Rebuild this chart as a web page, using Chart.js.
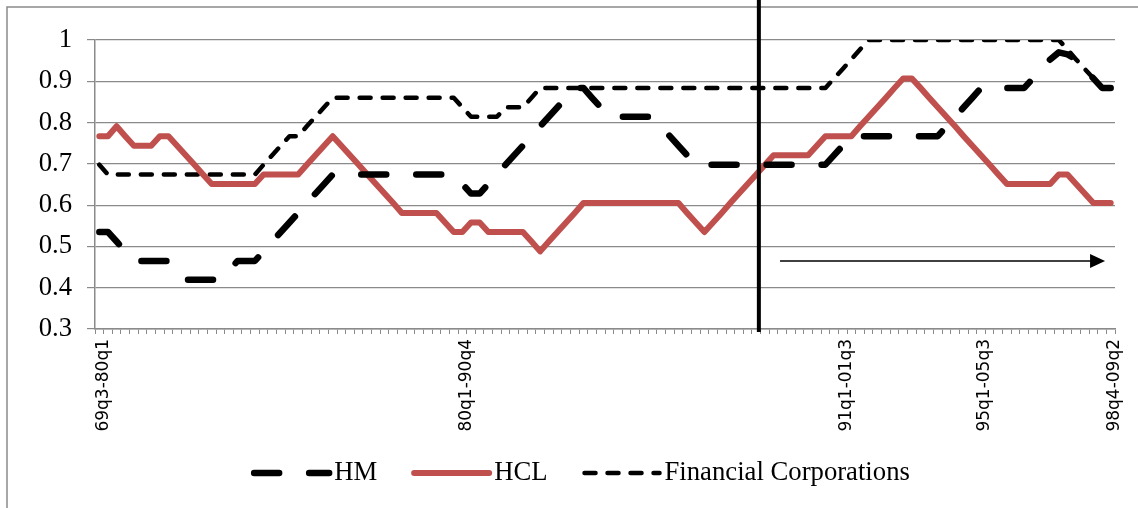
<!DOCTYPE html>
<html>
<head>
<meta charset="utf-8">
<script src="https://cdn.jsdelivr.net/npm/chart.js@4.4.1/dist/chart.umd.min.js"></script>
<style>
  html, body { margin: 0; padding: 0; background: #fff; }
  #wrap { position: relative; width: 1138px; height: 508px; }
</style>
</head>
<body>
<div id="wrap"><canvas id="chart"></canvas></div>
<script>
// rolling windows from 69q3-80q1 to 98q4-09q2, one value per window
const hm = [
  0.535, 0.535, 0.512, 0.488, 0.465, 0.465, 0.465, 0.465, 0.465, 0.442,
  0.419, 0.419, 0.419, 0.419, 0.419, 0.442, 0.465, 0.465, 0.465, 0.488,
  0.512, 0.535, 0.558, 0.581, 0.605, 0.628, 0.651, 0.674, 0.674, 0.674,
  0.674, 0.674, 0.674, 0.674, 0.674, 0.674, 0.674, 0.674, 0.674, 0.674,
  0.674, 0.674, 0.651, 0.628, 0.628, 0.651, 0.674, 0.698, 0.721, 0.744,
  0.767, 0.791, 0.814, 0.837, 0.860, 0.884, 0.884, 0.860, 0.837, 0.814,
  0.814, 0.814, 0.814, 0.814, 0.814, 0.791, 0.767, 0.744, 0.721, 0.698,
  0.698, 0.698, 0.698, 0.698, 0.698, 0.698, 0.698, 0.698, 0.698, 0.698,
  0.698, 0.698, 0.698, 0.698, 0.698, 0.721, 0.744, 0.767, 0.767, 0.767,
  0.767, 0.767, 0.767, 0.767, 0.767, 0.767, 0.767, 0.767, 0.791, 0.814,
  0.837, 0.860, 0.884, 0.884, 0.884, 0.884, 0.884, 0.884, 0.907, 0.930,
  0.953, 0.970, 0.965, 0.953, 0.930, 0.907, 0.884, 0.884
];
const hcl = [
  0.767, 0.767, 0.791, 0.767, 0.744, 0.744, 0.744, 0.767, 0.767, 0.744,
  0.721, 0.698, 0.674, 0.651, 0.651, 0.651, 0.651, 0.651, 0.651, 0.674,
  0.674, 0.674, 0.674, 0.674, 0.698, 0.721, 0.744, 0.767, 0.744, 0.721,
  0.698, 0.674, 0.651, 0.628, 0.605, 0.581, 0.581, 0.581, 0.581, 0.581,
  0.558, 0.535, 0.535, 0.558, 0.558, 0.535, 0.535, 0.535, 0.535, 0.535,
  0.512, 0.488, 0.512, 0.535, 0.558, 0.581, 0.605, 0.605, 0.605, 0.605,
  0.605, 0.605, 0.605, 0.605, 0.605, 0.605, 0.605, 0.605, 0.581, 0.558,
  0.535, 0.558, 0.581, 0.605, 0.628, 0.651, 0.674, 0.698, 0.721, 0.721,
  0.721, 0.721, 0.721, 0.744, 0.767, 0.767, 0.767, 0.767, 0.791, 0.814,
  0.837, 0.860, 0.884, 0.907, 0.907, 0.884, 0.860, 0.837, 0.814, 0.791,
  0.767, 0.744, 0.721, 0.698, 0.674, 0.651, 0.651, 0.651, 0.651, 0.651,
  0.651, 0.674, 0.674, 0.651, 0.628, 0.605, 0.605, 0.605
];
const financial = [
  0.698, 0.674, 0.674, 0.674, 0.674, 0.674, 0.674, 0.674, 0.674, 0.674,
  0.674, 0.674, 0.674, 0.674, 0.674, 0.674, 0.674, 0.674, 0.674, 0.698,
  0.721, 0.744, 0.767, 0.767, 0.791, 0.814, 0.837, 0.860, 0.860, 0.860,
  0.860, 0.860, 0.860, 0.860, 0.860, 0.860, 0.860, 0.860, 0.860, 0.860,
  0.860, 0.860, 0.837, 0.814, 0.814, 0.814, 0.814, 0.837, 0.837, 0.837,
  0.860, 0.884, 0.884, 0.884, 0.884, 0.884, 0.884, 0.884, 0.884, 0.884,
  0.884, 0.884, 0.884, 0.884, 0.884, 0.884, 0.884, 0.884, 0.884, 0.884,
  0.884, 0.884, 0.884, 0.884, 0.884, 0.884, 0.884, 0.884, 0.884, 0.884,
  0.884, 0.884, 0.884, 0.884, 0.884, 0.907, 0.930, 0.953, 0.977, 1,
  1, 1, 1, 1, 1, 1, 1, 1, 1, 1,
  1, 1, 1, 1, 1, 1, 1, 1, 1, 1,
  1, 1, 0.977, 0.953, 0.930, 0.907, 0.884, 0.884
];
const tickIndex = [0, 42, 86, 102, 117];
const tickLabels = ['69q3-80q1', '80q1-90q4', '91q1-01q3', '95q1-05q3', '98q4-09q2'];

// annotations, in category / value units
const breakAt = 76.3;
const arrowFrom = 78.75, arrowTo = 116.35, arrowLevel = 0.465;

const categories = hm.map((v, i) => i);
const serif = '"Liberation Serif", "Times New Roman", serif';

const marks = {
  id: 'marks',
  beforeDraw(chart) {
    const ctx = chart.ctx;
    ctx.save();
    ctx.strokeStyle = '#8a8a8a';
    ctx.lineWidth = 1.5;
    ctx.beginPath();
    ctx.moveTo(7, chart.height);
    ctx.lineTo(7, 7);
    ctx.lineTo(chart.width, 7);
    ctx.stroke();
    ctx.restore();
  },
  afterDatasetsDraw(chart) {
    const ctx = chart.ctx, x = chart.scales.x, y = chart.scales.y;
    ctx.save();
    // vertical break line
    const bx = x.getPixelForValue(breakAt);
    ctx.strokeStyle = '#000';
    ctx.lineWidth = 4;
    ctx.beginPath();
    ctx.moveTo(bx, 0);
    ctx.lineTo(bx, chart.chartArea.bottom + 3);
    ctx.stroke();
    // arrow
    const ax0 = x.getPixelForValue(arrowFrom), ax1 = x.getPixelForValue(arrowTo);
    const ay = y.getPixelForValue(arrowLevel);
    ctx.lineWidth = 1.5;
    ctx.beginPath();
    ctx.moveTo(ax0, ay);
    ctx.lineTo(ax1 - 12, ay);
    ctx.stroke();
    ctx.fillStyle = '#000';
    ctx.beginPath();
    ctx.moveTo(ax1, ay);
    ctx.lineTo(ax1 - 15, ay - 7);
    ctx.lineTo(ax1 - 15, ay + 7);
    ctx.closePath();
    ctx.fill();
    ctx.restore();
  },
  afterDraw(chart) {
    // legend row under the axis labels
    const ctx = chart.ctx;
    ctx.save();
    ctx.font = '26.7px ' + serif;
    const sample = 75, gapText = 5, gapItem = 37;
    const items = chart.data.datasets.map(ds => ({ ds, w: sample + gapText + ctx.measureText(ds.label).width }));
    const total = items.reduce((s, it) => s + it.w, 0) + gapItem * (items.length - 1);
    let lx = 582 - total / 2;
    const ly = 473;
    items.forEach(it => {
      ctx.strokeStyle = it.ds.borderColor;
      ctx.lineWidth = it.ds.borderWidth;
      ctx.lineCap = 'round';
      ctx.setLineDash(it.ds.borderDash || []);
      ctx.beginPath();
      ctx.moveTo(lx, ly);
      ctx.lineTo(lx + sample, ly);
      ctx.stroke();
      ctx.setLineDash([]);
      ctx.fillStyle = '#000';
      ctx.textAlign = 'left';
      ctx.textBaseline = 'middle';
      ctx.fillText(it.ds.label, lx + sample + gapText, ly);
      lx += it.w + gapItem;
    });
    ctx.restore();
  }
};

const ctx = document.getElementById('chart').getContext('2d');
const chart = new Chart(ctx, {
  type: 'line',
  data: {
    labels: categories,
    datasets: [{
      label: 'HM',
      data: hm,
      borderColor: '#000000',
      borderWidth: 6.5,
      borderDash: [25, 30],
      borderCapStyle: 'round',
      borderJoinStyle: 'round',
      pointRadius: 0,
      tension: 0
    }, {
      label: 'HCL',
      data: hcl,
      borderColor: '#C0504D',
      borderWidth: 6,
      borderCapStyle: 'round',
      borderJoinStyle: 'round',
      pointRadius: 0,
      tension: 0
    }, {
      label: 'Financial Corporations',
      data: financial,
      borderColor: '#000000',
      borderWidth: 4.5,
      borderDash: [11, 12],
      borderCapStyle: 'round',
      borderJoinStyle: 'round',
      pointRadius: 0,
      tension: 0
    }]
  },
  options: {
    responsive: true,
    maintainAspectRatio: false,
    animation: false,
    layout: { padding: { left: 0, right: 23, top: 40, bottom: 0 } },
    plugins: { legend: { display: false }, tooltip: { enabled: false } },
    scales: {
      x: {
        offset: true,
        grid: { offset: true, drawOnChartArea: false, drawTicks: true, tickLength: 5, color: '#8a8a8a' },
        border: { color: '#8a8a8a', width: 1.5 },
        ticks: {
          autoSkip: false,
          minRotation: 90,
          maxRotation: 90,
          padding: 5,
          labelOffset: 4,
          color: '#000',
          font: { family: '"DejaVu Sans", sans-serif', size: 17 },
          callback: (v, i) => {
            const k = tickIndex.indexOf(i);
            return k >= 0 ? tickLabels[k] : '';
          }
        },
        afterFit: s => { s.height = 179; }
      },
      y: {
        min: 0.3,
        max: 1,
        grid: { color: '#8a8a8a', lineWidth: 1.2, tickLength: 8 },
        border: { color: '#8a8a8a', width: 1.5 },
        ticks: {
          stepSize: 0.1,
          padding: 15,
          color: '#000',
          font: { family: serif, size: 26.7 },
          callback: v => String(Number(v.toFixed(1)))
        },
        afterFit: s => { s.width = 95; }
      }
    }
  },
  plugins: [marks]
});
</script>
</body>
</html>
